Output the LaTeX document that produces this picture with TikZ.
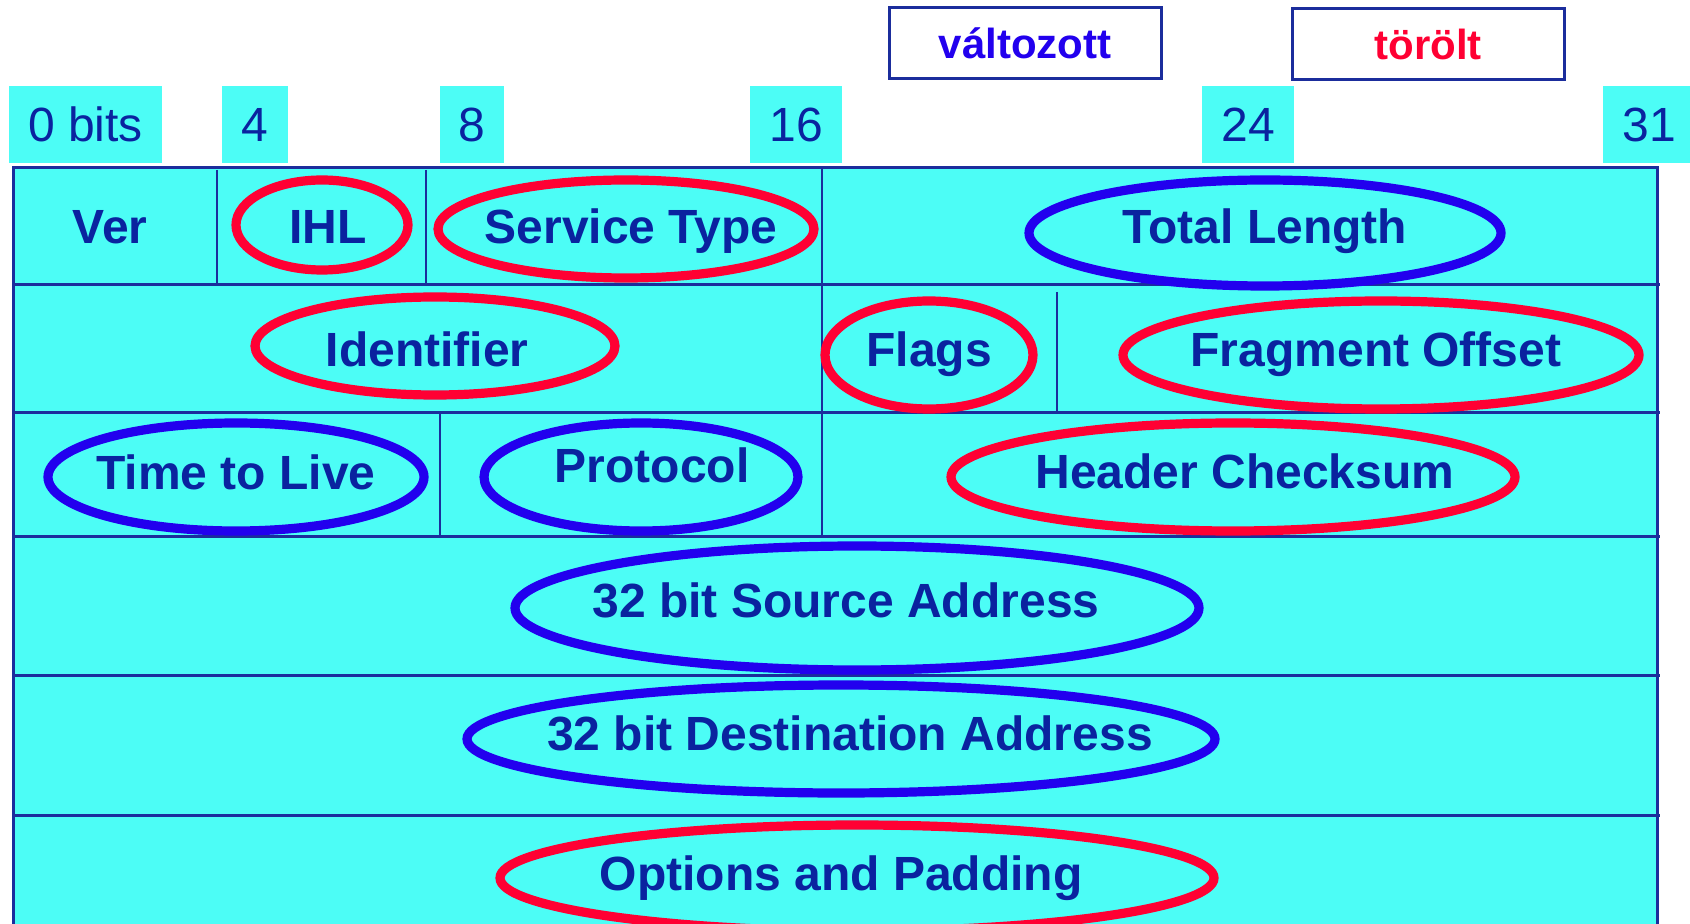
\documentclass[tikz,border=0pt]{standalone}
\usepackage{fontspec}
\setmainfont{Liberation Sans}
\definecolor{feldcyan}{HTML}{4CFDF6}
\definecolor{rahmenblau}{HTML}{1B2D9C}
\definecolor{textblau}{HTML}{0A239F}
\definecolor{ovalblau}{HTML}{2200EE}
\definecolor{ovalrot}{HTML}{FF0033}
\usepackage{tikz}

\begin{document}
\begin{tikzpicture}[x=0.5pt, y=-0.5pt,
    feld/.style={text=textblau, font=\fontsize{24}{28}\selectfont\bfseries, anchor=base, inner sep=0pt},
    bitlabel/.style={text=textblau, font=\fontsize{24}{28}\selectfont, anchor=base, inner sep=0pt},
    legende/.style={draw=rahmenblau, line width=1.5pt, fill=white, minimum width=136pt,
                    minimum height=35.5pt, inner sep=0pt, font=\fontsize{21}{25}\selectfont\bfseries},
    rahmen/.style={draw=rahmenblau, line width=1.5pt},
    trenner/.style={draw=rahmenblau, line width=1.1pt},
    ringblau/.style={draw=ovalblau, line width=4.6pt},
    ringrot/.style={draw=ovalrot, line width=4.6pt}]
      \clip (0,0) rectangle (1690,924);
      % Legend
      \node[legende, text=ovalblau] (geaendert) at (1025,43) {változott};
      \node[legende, text=ovalrot] (geloescht) at (1428,44) {törölt};
      % Bit positions
      \foreach \name/\lbl/\xa/\xb in {b0/0 bits/9/162, b4/4/222/288, b8/8/440/504,
                                     b16/16/750/842, b24/24/1202/1294, b31/31/1603/1695} {
        \fill[feldcyan] (\xa,86) rectangle (\xb,163);
        \node[bitlabel] (\name) at ({(\xa+\xb)/2},142) {\lbl};
      }
      % Header table
      \fill[feldcyan] (13,168) rectangle (1657,930);
      \draw[rahmen] (13,930) -- (13,168) -- (1657,168) -- (1657,930);
      \foreach \y in {285,413,536,675,815} {
        \draw[rahmen] (13,\y) -- (1660,\y);
      }
      \foreach \x/\ya/\yb in {217/170/283, 426/170/283, 822/168/536, 1057/292/413, 440/413/536} {
        \draw[trenner] (\x,\ya) -- (\x,\yb);
      }
      % Rings
      \draw[ringrot]  (322,225)  ellipse [x radius=86,  y radius=45];
      \draw[ringrot]  (626,229)  ellipse [x radius=188, y radius=49];
      \draw[ringblau] (1265,233) ellipse [x radius=236, y radius=53];
      \draw[ringrot]  (435,346)  ellipse [x radius=180, y radius=49];
      \draw[ringrot]  (929,355)  ellipse [x radius=104, y radius=54];
      \draw[ringrot]  (1381,355) ellipse [x radius=258, y radius=54];
      \draw[ringblau] (236,477)  ellipse [x radius=188, y radius=54];
      \draw[ringblau] (641,477)  ellipse [x radius=157, y radius=54];
      \draw[ringrot]  (1233,477) ellipse [x radius=282, y radius=54];
      \draw[ringblau] (857,608)  ellipse [x radius=342, y radius=62];
      \draw[ringblau] (841,739)  ellipse [x radius=374, y radius=54];
      \draw[ringrot]  (857,878)  ellipse [x radius=357, y radius=53];
      % Fields
      \node[feld] (ver)   at (110,244)  {Ver};
      \node[feld] (ihl)   at (328,244)  {IHL};
      \node[feld] (tos)   at (631,244)  {Service Type};
      \node[feld] (len)   at (1265,244) {Total Length};
      \node[feld] (ident) at (427,367)  {Identifier};
      \node[feld] (flags) at (929,367)  {Flags};
      \node[feld] (frag)  at (1376,367) {Fragment Offset};
      \node[feld] (ttl)   at (236,489)  {Time to Live};
      \node[feld] (proto) at (652,482)  {Protocol};
      \node[feld] (csum)  at (1245,488) {Header Checksum};
      \node[feld] (src)   at (846,617)  {32 bit Source Address};
      \node[feld] (dst)   at (850,750)  {32 bit Destination Address};
      \node[feld] (opt)   at (841,890)  {Options and Padding};
\end{tikzpicture}
\end{document}
